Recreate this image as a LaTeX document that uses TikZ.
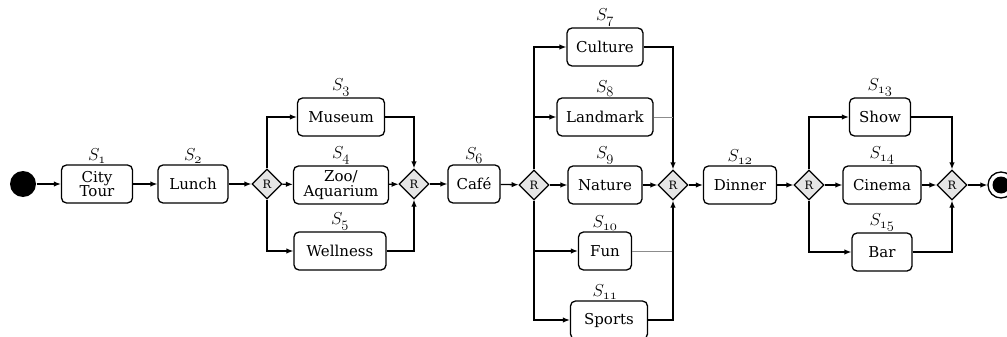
\documentclass[tikz,border=0pt]{standalone}
\usepackage{fontspec}
\setmainfont{DejaVu Serif}
\usetikzlibrary{arrows.meta,shapes.geometric}
\begin{document}
\begin{tikzpicture}[x=1pt,y=-1pt,
  line width=1.3pt,
  >={Latex[length=7pt,width=5.5pt]},
  act/.style={draw, rounded corners=5pt, minimum height=38pt, inner sep=1pt, align=center,
    font=\fontsize{15}{16.5}\selectfont},
  gate/.style={draw, diamond, aspect=1, minimum size=30pt, inner sep=0pt, fill=black!10,
    font=\fontsize{11.5}{12}\selectfont},
  lab/.style={anchor=south, inner sep=0.5pt, font=\fontsize{19}{21}\selectfont},
  flow/.style={->},
  thinline/.style={line width=0.6pt, draw=black!45}
]
\useasboundingbox (0,0) rectangle (1007,337);

% start / end
\node (start) [circle, fill=black, minimum size=26pt, inner sep=0pt] at (23,184) {};
\node (endo) [circle, draw, line width=1.3pt, minimum size=26pt, inner sep=0pt] at (1001,185) {};
\node (endi) [circle, fill=black, minimum size=17pt, inner sep=0pt] at (1001,185) {};

% activities
\node (b1) [act, minimum width=71pt] at (97,184) {City\\[-2pt]Tour};
\node (b2) [act, minimum width=70pt] at (193,184) {Lunch};
\node (b3) [act, minimum width=87pt] at (341,117) {Museum};
\node (b4) [act, minimum width=95pt] at (341,185) {Zoo/\\[-2pt]Aquarium};
\node (b5) [act, minimum width=92pt] at (340,251) {Wellness};
\node (b6) [act, minimum width=52pt] at (474,184) {Café};
\node (b7) [act, minimum width=76pt] at (605,47) {Culture};
\node (b8) [act, minimum width=96pt] at (605,117) {Landmark};
\node (b9) [act, minimum width=74pt] at (605,185) {Nature};
\node (b10) [act, minimum width=53pt] at (605,251) {Fun};
\node (b11) [act, minimum width=77pt] at (609,320) {Sports};
\node (b12) [act, minimum width=73pt] at (740,185) {Dinner};
\node (b13) [act, minimum width=61pt] at (880,117) {Show};
\node (b14) [act, minimum width=78pt] at (882,185) {Cinema};
\node (b15) [act, minimum width=60pt] at (882,252) {Bar};

% labels
\node (l1) [lab] at (b1.north) {$S_{\mathnormal{1}}$};
\node (l2) [lab] at (b2.north) {$S_{\mathnormal{2}}$};
\node (l3) [lab] at (b3.north) {$S_{\mathnormal{3}}$};
\node (l4) [lab] at (b4.north) {$S_{\mathnormal{4}}$};
\node (l5) [lab] at (b5.north) {$S_{\mathnormal{5}}$};
\node (l6) [lab] at (b6.north) {$S_{\mathnormal{6}}$};
\node (l7) [lab] at (b7.north) {$S_{\mathnormal{7}}$};
\node (l8) [lab] at (b8.north) {$S_{\mathnormal{8}}$};
\node (l9) [lab] at (b9.north) {$S_{\mathnormal{9}}$};
\node (l10) [lab] at (b10.north) {$S_{\mathnormal{10}}$};
\node (l11) [lab] at ([xshift=-4pt]b11.north) {$S_{\mathnormal{11}}$};
\node (l12) [lab] at (b12.north) {$S_{\mathnormal{12}}$};
\node (l13) [lab] at (b13.north) {$S_{\mathnormal{13}}$};
\node (l14) [lab] at (b14.north) {$S_{\mathnormal{14}}$};
\node (l15) [lab] at (b15.north) {$S_{\mathnormal{15}}$};

% gateways
\node (d1) [gate] at (267,184) {R};
\node (d2) [gate] at (414,184) {R};
\node (d3) [gate] at (534,185) {R};
\node (d4) [gate] at (673,185) {R};
\node (d5) [gate] at (809,185) {R};
\node (d6) [gate] at (952,185) {R};

% connectors
\draw[flow] (start) -- (b1);
\draw[flow] (b1) -- (b2);
\draw[flow] (b2) -- (d1);
\draw[flow] (d1.north) |- (b3.west);
\draw[flow] (d1) -- (b4);
\draw[flow] (d1.south) |- (b5.west);
\draw[flow] (b3.east) -| (d2.north);
\draw[flow] (b4) -- (d2);
\draw[flow] (b5.east) -| (d2.south);
\draw[flow] (d2) -- (b6);
\draw[flow] (b6) -- (d3);
\draw[flow] (d3.north) |- (b7.west);
\draw[flow] (d3.north) |- (b8.west);
\draw[flow] (d3) -- (b9);
\draw[flow] (d3.south) |- (b10.west);
\draw[flow] (d3.south) |- (b11.west);
\draw[flow] (b7.east) -| (d4.north);
\draw[thinline] (b8.east) -- (b8.east -| d4.north);
\draw[flow] (b9) -- (d4);
\draw[thinline] (b10.east) -- (b10.east -| d4.south);
\draw[flow] (b11.east) -| (d4.south);
\draw[flow] (d4) -- (b12);
\draw[flow] (b12) -- (d5);
\draw[flow] (d5.north) |- (b13.west);
\draw[flow] (d5) -- (b14);
\draw[flow] (d5.south) |- (b15.west);
\draw[flow] (b13.east) -| (d6.north);
\draw[flow] (b14) -- (d6);
\draw[flow] (b15.east) -| (d6.south);
\draw[flow] (d6) -- (endo);
\end{tikzpicture}
\end{document}
